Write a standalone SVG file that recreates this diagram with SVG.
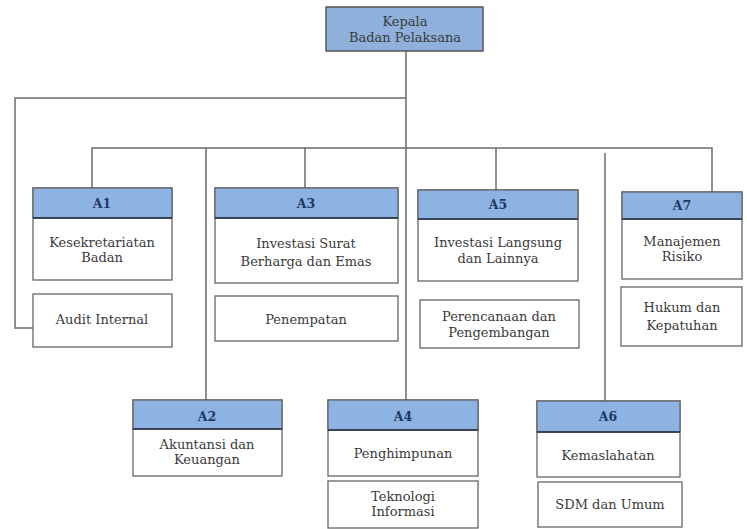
<svg xmlns="http://www.w3.org/2000/svg" width="747" height="529" viewBox="0 0 747 529">
<style>
.box{fill:#fff;stroke:#666;stroke-width:1.3}
.hdr{fill:#8db3e2;stroke:#666;stroke-width:1.3}
.sep{stroke:#1f2d45;stroke-width:1.6}
.top{fill:#8eb0db;stroke:#555;stroke-width:1.5}
.t{font-family:"DejaVu Serif",serif;font-size:13px;fill:#3a3a3a;text-anchor:middle}
.h{font-family:"DejaVu Serif",serif;font-size:12.5px;font-weight:bold;fill:#1f3864;text-anchor:middle}
.c{fill:none;stroke:#6b6b6b;stroke-width:1.5}
</style>
<rect width="747" height="529" fill="#fff"/>
<g id="connectors">
<path class="c" d="M406 51V400"/>
<path class="c" d="M406 98H15V328H33"/>
<path class="c" d="M92 188V148H712V192"/>
<path class="c" d="M206 148V400"/>
<path class="c" d="M305 148V188"/>
<path class="c" d="M496 148V190"/>
<path class="c" d="M605 153V401"/>
</g>
<g id="kepala">
<rect class="top" x="326" y="7" width="157" height="44"/>
<text class="t" x="405" y="26">Kepala</text>
<text class="t" x="405" y="42">Badan Pelaksana</text>
</g>
<g id="A1">
<rect class="box" x="33" y="188" width="139" height="92"/>
<rect class="hdr" x="33" y="188" width="139" height="30"/>
<line class="sep" x1="33" y1="218" x2="172" y2="218"/>
<text class="h" x="102" y="208">A1</text>
<text class="t" x="102" y="247">Kesekretariatan</text>
<text class="t" x="102" y="262">Badan</text>
</g>
<g id="audit">
<rect class="box" x="33" y="294" width="139" height="53"/>
<text class="t" x="102" y="324">Audit Internal</text>
</g>
<g id="A3">
<rect class="box" x="215" y="188" width="183" height="95"/>
<rect class="hdr" x="215" y="188" width="183" height="30"/>
<line class="sep" x1="215" y1="218" x2="398" y2="218"/>
<text class="h" x="306" y="208">A3</text>
<text class="t" x="306" y="248">Investasi Surat</text>
<text class="t" x="306" y="266">Berharga dan Emas</text>
</g>
<g id="penempatan">
<rect class="box" x="215" y="296" width="183" height="45"/>
<text class="t" x="306" y="324">Penempatan</text>
</g>
<g id="A5">
<rect class="box" x="418" y="190" width="160" height="91"/>
<rect class="hdr" x="418" y="190" width="160" height="29"/>
<line class="sep" x1="418" y1="219" x2="578" y2="219"/>
<text class="h" x="498" y="209">A5</text>
<text class="t" x="498" y="247">Investasi Langsung</text>
<text class="t" x="498" y="263">dan Lainnya</text>
</g>
<g id="perencanaan">
<rect class="box" x="420" y="300" width="159" height="48"/>
<text class="t" x="499" y="321">Perencanaan dan</text>
<text class="t" x="499" y="337">Pengembangan</text>
</g>
<g id="A7">
<rect class="box" x="622" y="192" width="120" height="87"/>
<rect class="hdr" x="622" y="192" width="120" height="27"/>
<line class="sep" x1="622" y1="219" x2="742" y2="219"/>
<text class="h" x="682" y="210">A7</text>
<text class="t" x="682" y="246">Manajemen</text>
<text class="t" x="682" y="261">Risiko</text>
</g>
<g id="hukum">
<rect class="box" x="621" y="287" width="121" height="59"/>
<text class="t" x="682" y="312">Hukum dan</text>
<text class="t" x="682" y="330">Kepatuhan</text>
</g>
<g id="A2">
<rect class="box" x="133" y="400" width="149" height="76"/>
<rect class="hdr" x="133" y="400" width="149" height="29"/>
<line class="sep" x1="133" y1="429" x2="282" y2="429"/>
<text class="h" x="207" y="421">A2</text>
<text class="t" x="207" y="449">Akuntansi dan</text>
<text class="t" x="207" y="464">Keuangan</text>
</g>
<g id="A4">
<rect class="box" x="328" y="400" width="150" height="76"/>
<rect class="hdr" x="328" y="400" width="150" height="30"/>
<line class="sep" x1="328" y1="430" x2="478" y2="430"/>
<text class="h" x="403" y="421">A4</text>
<text class="t" x="403" y="458">Penghimpunan</text>
</g>
<g id="teknologi">
<rect class="box" x="328" y="481" width="150" height="47"/>
<text class="t" x="403" y="501">Teknologi</text>
<text class="t" x="403" y="516">Informasi</text>
</g>
<g id="A6">
<rect class="box" x="537" y="401" width="143" height="76"/>
<rect class="hdr" x="537" y="401" width="143" height="31"/>
<line class="sep" x1="537" y1="432" x2="680" y2="432"/>
<text class="h" x="608" y="421">A6</text>
<text class="t" x="608" y="460">Kemaslahatan</text>
</g>
<g id="sdm">
<rect class="box" x="538" y="482" width="144" height="45"/>
<text class="t" x="610" y="509">SDM dan Umum</text>
</g>
</svg>
